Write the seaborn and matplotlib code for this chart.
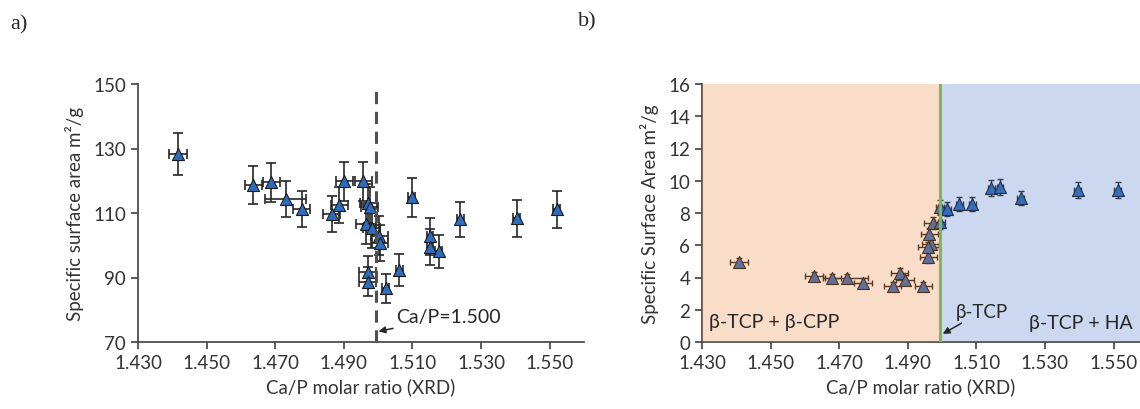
import numpy as np
import pandas as pd
import matplotlib
matplotlib.use("Agg")
import matplotlib.pyplot as plt
import seaborn as sns

# ---------------- data ----------------
# Panel a: specific surface area (m2/g) vs Ca/P molar ratio
xa = [1.4416, 1.4636, 1.4688, 1.4731, 1.4777, 1.4865, 1.4887, 1.4901, 1.4957,
      1.4971, 1.4976, 1.4965, 1.4981, 1.5003, 1.5004, 1.4969, 1.4969, 1.5022,
      1.5062, 1.5098, 1.5151, 1.5151, 1.5176, 1.5239, 1.5404, 1.5520]
ya = [128.3, 118.7, 119.5, 114.3, 111.2, 109.7, 112.5, 119.8, 119.8,
      113.0, 112.0, 106.5, 105.3, 103.0, 100.7, 91.6, 88.7, 86.6,
      92.4, 114.9, 102.8, 99.4, 98.1, 108.0, 108.4, 111.2]
ya_err = [6.5, 6.0, 6.0, 5.6, 5.6, 5.5, 5.7, 6.0, 6.0,
          6.0, 6.0, 6.0, 6.0, 6.0, 5.5, 5.0, 4.5, 4.5,
          5.0, 6.0, 5.7, 5.5, 5.0, 5.4, 5.7, 5.7]
xa_err = [0.0026, 0.0025, 0.0025, 0.0060, 0.0025, 0.0025, 0.0025, 0.0025, 0.0025,
          0.0025, 0.0025, 0.0030, 0.0025, 0.0025, 0.0025, 0.0025, 0.0025, 0.0010,
          0.0010, 0.0010, 0.0010, 0.0010, 0.0010, 0.0010, 0.0010, 0.0010]

# Panel b: specific surface area (m2/g) vs Ca/P molar ratio
xb = [1.4408, 1.4627, 1.4679, 1.4722, 1.4769, 1.4856, 1.4877, 1.4892, 1.4945,
      1.4960, 1.4967, 1.4960, 1.4963, 1.4973, 1.4994, 1.4994, 1.5013, 1.5050,
      1.5088, 1.5143, 1.5169, 1.5229, 1.5395, 1.5512]
yb = [4.94, 4.11, 3.95, 3.97, 3.66, 3.49, 4.28, 3.84, 3.49,
      5.25, 6.08, 5.87, 6.70, 7.38, 7.46, 8.35, 8.25, 8.56,
      8.56, 9.53, 9.59, 8.93, 9.45, 9.45]
yb_err = [0.30, 0.25, 0.25, 0.25, 0.30, 0.25, 0.30, 0.30, 0.25,
          0.35, 0.40, 0.35, 0.40, 0.40, 0.45, 0.45, 0.45, 0.45,
          0.45, 0.50, 0.50, 0.45, 0.50, 0.50]
xb_err = [0.0027, 0.0027, 0.0025, 0.0063, 0.0027, 0.0025, 0.0025, 0.0025, 0.0025,
          0.0025, 0.0025, 0.0030, 0.0025, 0.0025, 0.0015, 0.0012, 0.0012, 0.0010,
          0.0010, 0.0010, 0.0010, 0.0010, 0.0010, 0.0010]

x_ticks = [1.430, 1.450, 1.470, 1.490, 1.510, 1.530, 1.550]
x_tick_labels = ["1.430", "1.450", "1.470", "1.490", "1.510", "1.530", "1.550"]
ya_ticks = [70, 90, 110, 130, 150]
yb_ticks = [0, 2, 4, 6, 8, 10, 12, 14, 16]
boundary = 1.4995

# ---------------- style ----------------
sns.set_style("ticks")
plt.rcParams['font.family'] = ['Lato', 'DejaVu Sans']
TXT = '#333333'
AX = '#4d4d4d'
MARK = '#2E6DBA'
FS = 13.5

fig = plt.figure(figsize=(11.4, 4.1), dpi=100)
ax_a = fig.add_axes([138/1140, 1-343/410, (584-138)/1140, (343-85)/410])
ax_b = fig.add_axes([702/1140, 1-343/410, (1140-702)/1140, (343-85)/410])

dfa = pd.DataFrame({"x": xa, "y": ya})
dfb = pd.DataFrame({"x": xb, "y": yb})

def style_axes(ax):
    for s in ["top", "right"]:
        ax.spines[s].set_visible(False)
    for s in ["left", "bottom"]:
        ax.spines[s].set_color(AX)
        ax.spines[s].set_linewidth(1.3)
    ax.tick_params(axis='both', colors=AX, labelcolor=TXT, labelsize=FS,
                   length=5, width=1.3, direction='out')
    ax.set_xticks(x_ticks)
    ax.set_xticklabels(x_tick_labels)
    ax.set_xlabel("Ca/P molar ratio (XRD)", fontsize=FS, color=TXT, labelpad=5)

# ---- panel a ----
ax_a.errorbar(xa, ya, yerr=ya_err, xerr=xa_err, fmt='none', ecolor='#262626',
              elinewidth=1.2, capsize=3.5, capthick=1.2, zorder=2)
sns.scatterplot(data=dfa, x="x", y="y", ax=ax_a, marker='^', s=75,
                color=MARK, edgecolor='#1a1a1a', linewidth=0.8, zorder=3, legend=False)
ax_a.axvline(boundary, color='#505050', lw=2.2, ls=(0, (4, 2.5)), zorder=4)
ax_a.set_xlim(1.430, 1.560)
ax_a.set_ylim(70, 150)
ax_a.set_yticks(ya_ticks)
style_axes(ax_a)
ax_a.set_ylabel("Specific surface area m²/g", fontsize=FS, color=TXT, labelpad=7)
ax_a.annotate("Ca/P=1.500", xy=(1.5001, 73.3), xytext=(1.5053, 77.8),
              fontsize=14, color='#262626', va='center', ha='left',
              arrowprops=dict(arrowstyle='-|>', color='#262626', lw=1.1,
                              mutation_scale=10, shrinkA=0, shrinkB=0))

# ---- panel b ----
ax_b.errorbar(xb, yb, yerr=yb_err, xerr=xb_err, fmt='none', ecolor='#262626',
              elinewidth=1.0, capsize=2.5, capthick=1.0, zorder=2)
sns.scatterplot(data=dfb, x="x", y="y", ax=ax_b, marker='^', s=75,
                color=MARK, edgecolor='#1a1a1a', linewidth=0.8, zorder=3, legend=False)
ax_b.set_xlim(1.430, 1.430 + 438/3430)
ax_b.set_ylim(0, 16)
ax_b.axvspan(1.430, boundary, ymin=0, ymax=1, color='#ED7D31', alpha=0.26, lw=0, zorder=5)
ax_b.axvspan(boundary, 1.60, ymin=0, ymax=1, color='#4472C4', alpha=0.27, lw=0, zorder=5)
ax_b.axvline(boundary, color='#7DB758', lw=2.2, zorder=6)
ax_b.set_yticks(yb_ticks)
style_axes(ax_b)
ax_b.set_ylabel("Specific Surface Area m²/g", fontsize=FS, color=TXT, labelpad=7)
ax_b.text(1.4320, 1.25, "β-TCP + β-CPP", fontsize=14, color='#262626', ha='left',
          va='center', zorder=7)
ax_b.text(1.5557, 1.2, "β-TCP + HA", fontsize=14, color='#262626', ha='right',
          va='center', zorder=7)
ax_b.annotate("β-TCP", xy=(1.5002, 0.5), xytext=(1.5040, 1.9),
              fontsize=13.5, color='#262626', va='center', ha='left', zorder=7,
              arrowprops=dict(arrowstyle='-|>', color='#262626', lw=1.1,
                              mutation_scale=10, shrinkA=0, shrinkB=0))

# panel labels
fig.text(10/1140, 1-25/410, "a)", fontsize=16, family='Liberation Serif', va='center')
fig.text(578/1140, 1-22/410, "b)", fontsize=16, family='Liberation Serif', va='center')

fig.savefig("out.png", dpi=100)
